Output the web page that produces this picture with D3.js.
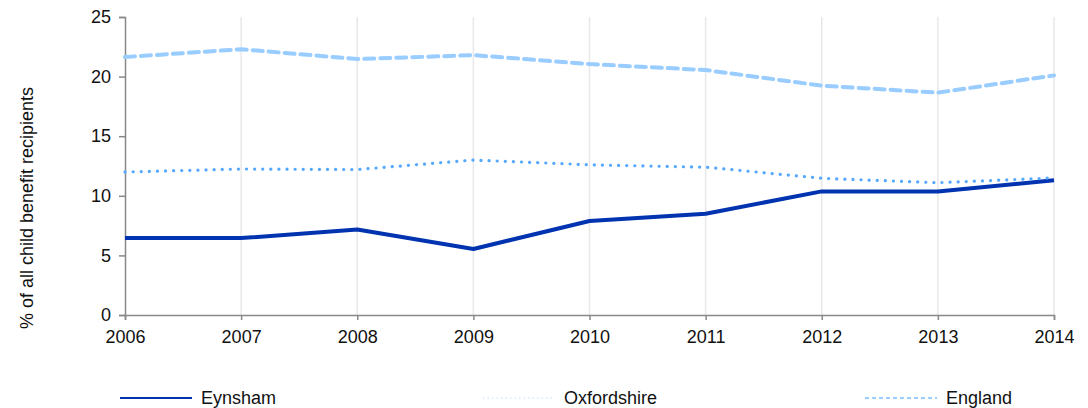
<!DOCTYPE html>
<html><head><meta charset="utf-8">
<script src="https://cdn.jsdelivr.net/npm/d3@7"></script>
<style>body{margin:0;background:#fff;} text{font-family:"Liberation Sans",Arial,sans-serif;}</style>
</head><body>
<svg id="c" width="1088" height="408"></svg>
<script>
const years = [2006, 2007, 2008, 2009, 2010, 2011, 2012, 2013, 2014];
const eynsham = [6.46, 6.45, 7.18, 5.54, 7.89, 8.5, 10.37, 10.36, 11.3];
const oxfordshire = [12.0, 12.25, 12.2, 13.0, 12.6, 12.4, 11.47, 11.1, 11.5];
const england = [21.64, 22.3, 21.47, 21.8, 21.05, 20.55, 19.24, 18.65, 20.1];
const yTicks = [0, 5, 10, 15, 20, 25];
const seriesNames = ["Eynsham", "Oxfordshire", "England"];

const FS = 18;
const svg = d3.select("#c");
const x = d3.scaleLinear().domain([2006, 2014]).range([125, 1054]);
const y = d3.scaleLinear().domain([0, 25]).range([315, 17]);

// vertical gridlines
svg.append("g").selectAll("line").data(years.slice(1)).join("line")
  .attr("x1", d => x(d)).attr("x2", d => x(d)).attr("y1", 17).attr("y2", 315)
  .attr("stroke", "#e8e8e8").attr("stroke-width", 1.5);

const yAxis = svg.append("g").attr("transform", "translate(125,0)")
  .call(d3.axisLeft(y).tickValues(yTicks).tickSize(6).tickPadding(8));
const xAxis = svg.append("g").attr("transform", "translate(0,315)")
  .call(d3.axisBottom(x).tickValues(years).tickFormat(d3.format("d")).tickSize(5).tickPadding(10));
[yAxis, xAxis].forEach(a => {
  a.attr("font-size", FS).attr("font-family", "Liberation Sans, Arial, sans-serif");
  a.selectAll("path,line").attr("stroke", "#888").attr("stroke-width", 1.5);
  a.selectAll("text").attr("fill", "#111");
});

svg.append("text").attr("transform", "translate(33,208) rotate(-90)")
  .attr("text-anchor", "middle").attr("font-size", FS).attr("fill", "#111")
  .text("% of all child benefit recipients");

const line = d3.line().x((d, i) => x(years[i])).y(d => y(d));
const styles = [
  {data: eynsham, color: "#0033b0", w: 4, dash: null, cap: "butt"},
  {data: oxfordshire, color: "#55a8ff", w: 3.2, dash: "0.1 8", cap: "round"},
  {data: england, color: "#99ccff", w: 4, dash: "10 6", cap: "round"}
];
styles.forEach(s => {
  svg.append("path").datum(s.data).attr("d", line).attr("fill", "none")
    .attr("stroke", s.color).attr("stroke-width", s.w)
    .attr("stroke-dasharray", s.dash).attr("stroke-linecap", s.cap)
    .attr("stroke-linejoin", "round");
});

// legend
const legX = [120, 483, 865];
const legStyle = [
  {color: "#0033b0", w: 2, dash: null},
  {color: "#d6eaff", w: 1.5, dash: "1.5 3"},
  {color: "#99ccff", w: 2, dash: "4 3"}
];
seriesNames.forEach((n, i) => {
  const g = svg.append("g").attr("transform", `translate(${legX[i]},398)`);
  g.append("line").attr("x1", 0).attr("x2", 72).attr("y1", 0).attr("y2", 0)
    .attr("stroke", legStyle[i].color).attr("stroke-width", legStyle[i].w)
    .attr("stroke-dasharray", legStyle[i].dash);
  g.append("text").attr("x", 81).attr("y", 6).attr("font-size", FS).attr("fill", "#111").text(n);
});
</script>
</body></html>
